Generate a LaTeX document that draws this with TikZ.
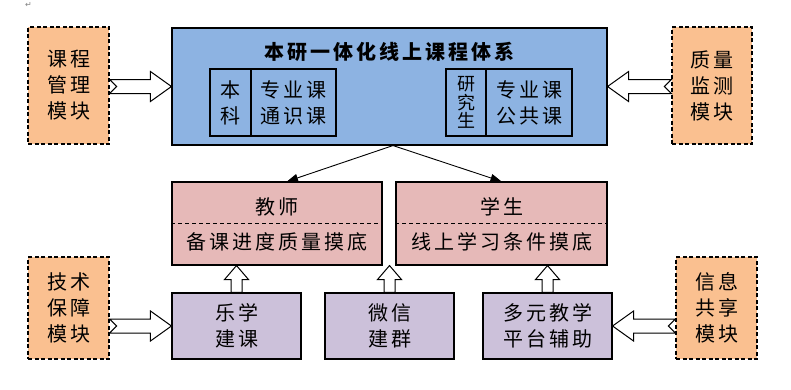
\documentclass[tikz,border=0pt]{standalone}
\usepackage{fontspec}
\usetikzlibrary{arrows.meta,calc}
\newfontfamily\cjk[LetterSpace=15]{Noto Sans CJK SC}
\newfontfamily\symfont{DejaVu Sans}
\definecolor{modorange}{HTML}{FAC090}
\definecolor{sysblue}{HTML}{8DB3E2}
\definecolor{rolepink}{HTML}{E6B9B8}
\definecolor{toolpurple}{HTML}{CCC1DA}

\tikzset{
  modbox/.style={draw, line width=1.2pt, dash pattern=on 4pt off 2.5pt, fill=modorange, align=center, inner sep=0pt},
  sysbox/.style={draw, line width=1.1pt, fill=sysblue, inner sep=0pt},
  cellbox/.style={draw, line width=1.1pt, align=center, inner sep=0pt},
  rolebox/.style={draw, line width=1.1pt, fill=rolepink, inner sep=0pt},
  toolbox/.style={draw, line width=1.1pt, fill=toolpurple, align=center, inner sep=0pt},
  blockarrow/.style={draw, line width=1pt, fill=white, line join=miter},
  flowline/.style={line width=0.9pt, -{Triangle[length=11pt,width=8pt]}}
}

% hollow block arrows between nodes
\newcommand{\blockright}[2]{%
  \path[blockarrow] let \p1=(#1.east), \p2=(#2.west) in
    (\x1,\y2+7pt) -- (\x2-21pt,\y2+7pt) -- (\x2-21pt,\y2+15pt) -- (\x2,\y2)
    -- (\x2-21pt,\y2-15pt) -- (\x2-21pt,\y2-7pt) -- (\x1,\y2-7pt) -- (\x1+7pt,\y2) -- cycle;}
\newcommand{\blockleft}[2]{%
  \path[blockarrow] let \p1=(#1.west), \p2=(#2.east) in
    (\x1,\y2+7pt) -- (\x2+21pt,\y2+7pt) -- (\x2+21pt,\y2+15pt) -- (\x2,\y2)
    -- (\x2+21pt,\y2-15pt) -- (\x2+21pt,\y2-7pt) -- (\x1,\y2-7pt) -- (\x1-7pt,\y2) -- cycle;}
\newcommand{\blockup}[2]{%
  \path[blockarrow] let \p1=(#1.north), \p2=(#2.south) in
    (\x1-5.5pt,\y1) -- (\x1-5.5pt,\y2-14pt) -- (\x1-12pt,\y2-14pt) -- (\x1,\y2)
    -- (\x1+12pt,\y2-14pt) -- (\x1+5.5pt,\y2-14pt) -- (\x1+5.5pt,\y1) -- cycle;}

\begin{document}
\begin{tikzpicture}[x=1pt, y=-1pt, every node/.style={font=\cjk\fontsize{20}{26}\selectfont}]
  \useasboundingbox (0,0) rectangle (791,389);
  \node[text=gray, inner sep=0pt, font=\symfont\fontsize{8}{8}\selectfont] (parmark) at (28.5,5) {↵};

  % modules
  \node[modbox, minimum width=81, minimum height=117] (coursemod) at (68.5,85.5) {课程\\管理\\模块};
  \node[modbox, minimum width=80, minimum height=117] (qualmod) at (712,85.5) {质量\\监测\\模块};
  \node[modbox, minimum width=81, minimum height=102] (techmod) at (68.5,308) {技术\\保障\\模块};
  \node[modbox, minimum width=81, minimum height=102] (infomod) at (716.5,308) {信息\\共享\\模块};

  % course system
  \node[sysbox, minimum width=435, minimum height=117] (system) at (389.5,86.5) {};
  \node (systitle) at (389.5,52) {\bfseries 本研一体化线上课程体系};
  \node[cellbox, minimum width=41, minimum height=67] (ugtag) at (230.5,102.5) {本\\科};
  \node[cellbox, minimum width=85, minimum height=67] (ugcourse) at (293.5,102.5) {专业课\\通识课};
  \node[cellbox, minimum width=40, minimum height=67, font=\cjk\fontsize{18}{18.5}\selectfont] (pgtag) at (466,102.5) {研\\究\\生};
  \node[cellbox, minimum width=86, minimum height=67] (pgcourse) at (529,102.5) {专业课\\公共课};

  % teachers and students
  \node[rolebox, minimum width=210, minimum height=83] (teacher) at (277,223.5) {};
  \node[rolebox, minimum width=211, minimum height=83] (student) at (501.5,223.5) {};
  \draw[line width=0.9pt, dash pattern=on 4pt off 3pt] (teacher.west) -- (teacher.east);
  \draw[line width=0.9pt, dash pattern=on 4pt off 3pt] (student.west) -- (student.east);
  \node (teacherrole) at (277,207) {教师};
  \node (teachertask) at (277,242) {备课进度质量摸底};
  \node (studentrole) at (501.5,207) {学生};
  \node (studenttask) at (501.5,242) {线上学习条件摸底};

  % tools
  \node[toolbox, minimum width=129, minimum height=66] (lexue) at (236.5,326) {乐学\\建课};
  \node[toolbox, minimum width=129, minimum height=66] (wechat) at (389.5,326) {微信\\建群};
  \node[toolbox, minimum width=129, minimum height=66] (platform) at (547.5,326) {多元教学\\平台辅助};

  % connectors
  \coordinate (fork) at ($(system.south)+(3.5,0)$);
  \coordinate (teacherhit) at ($(teacher.north)+(10,0)$);
  \draw[flowline] (fork) -- (teacherhit);
  \draw[flowline] (fork) -- (student.north);

  \blockright{coursemod}{system}
  \blockleft{qualmod}{system}
  \blockright{techmod}{lexue}
  \blockleft{infomod}{platform}
  \blockup{lexue}{teacher}
  \blockup{wechat}{teacher}
  \blockup{platform}{student}
\end{tikzpicture}
\end{document}
